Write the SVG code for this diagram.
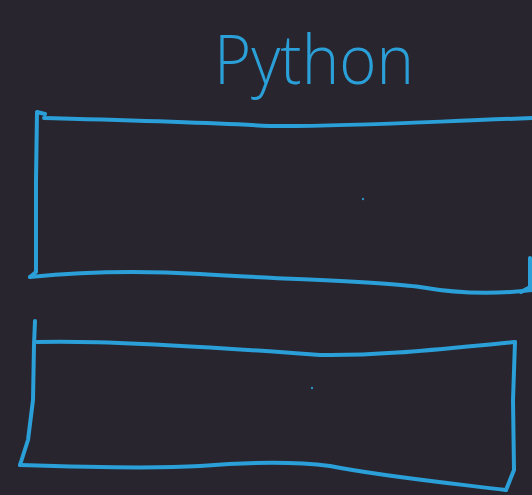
<svg xmlns="http://www.w3.org/2000/svg" width="532" height="495" viewBox="0 0 532 495">
<style>
.ink{fill:none;stroke:#2a9fd8;stroke-width:4;stroke-linecap:round;stroke-linejoin:round}
.lbl{font-family:"Open Sans","Liberation Sans",sans-serif;font-weight:300;font-size:68px;fill:#2a9fd8}
.dot{fill:#2a8fc0}
</style>
<rect width="532" height="495" fill="#29252e"/>
<g id="title"><text class="lbl" x="214" y="84" textLength="200" lengthAdjust="spacingAndGlyphs">Python</text></g>
<g id="box1">
<path class="ink" d="M45,114 L37,112 L36,180 L36,272 L30,277"/>
<path class="ink" d="M44,118 C120,120 200,122 270,126 C340,127 420,122 532,118"/>
<path class="ink" d="M30,277 C80,272 130,270 200,274 C300,280 380,281 420,287 C460,294 500,294 532,290"/>
<path class="ink" d="M521,292 L532,286"/>
<path class="ink" d="M530,258 L530,290"/>
<circle class="dot" cx="363" cy="199" r="1.2"/>
</g>
<g id="box2">
<path class="ink" d="M35,321 L34,345 L33,400 L28,440 L20,465"/>
<path class="ink" d="M37,342 C100,340 200,346 320,355 C380,356 440,349 515,342"/>
<path class="ink" d="M515,342 L513,400 L514,470 L506,490"/>
<path class="ink" d="M20,465 C80,467 150,469 200,466 C250,462 290,461 330,466 C380,476 440,482 506,490"/>
<circle class="dot" cx="312" cy="388" r="1.2"/>
</g>
<g id="connectors"/>
</svg>
